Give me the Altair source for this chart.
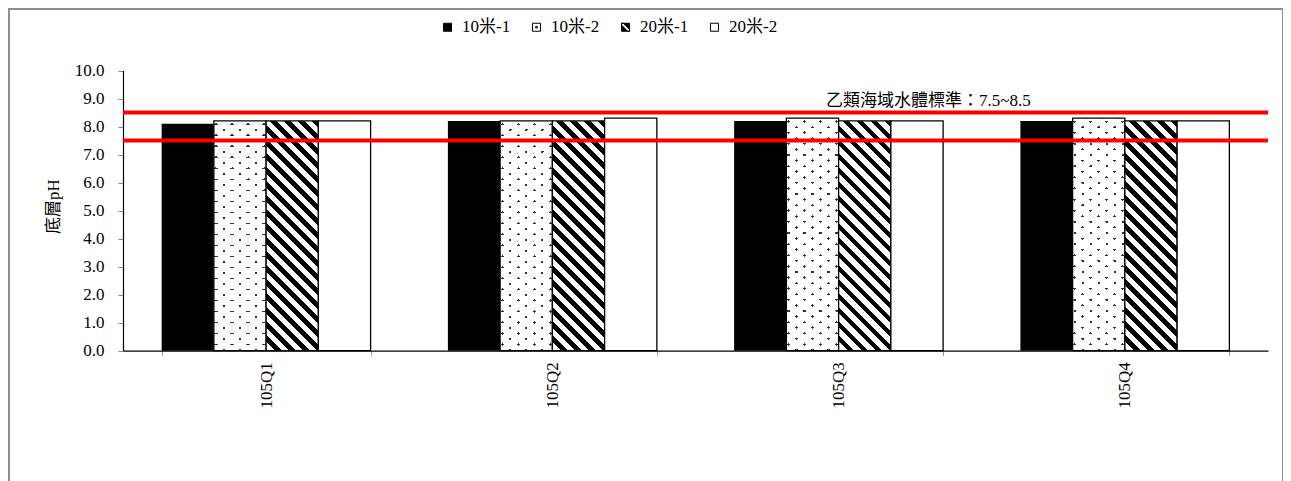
import math
import altair as alt
import pandas as pd

# ---------------- data ----------------
quarters = ["105Q1", "105Q2", "105Q3", "105Q4"]
series = ["10米-1", "10米-2", "20米-1", "20米-2"]
v_10m_1 = [8.1, 8.2, 8.2, 8.2]
v_10m_2 = [8.2, 8.2, 8.3, 8.3]
v_20m_1 = [8.2, 8.2, 8.2, 8.2]
v_20m_2 = [8.2, 8.3, 8.2, 8.2]
std_values = [7.5, 8.5]
std_label = "乙類海域水體標準：7.5~8.5"
y_ticks = [0, 1, 2, 3, 4, 5, 6, 7, 8, 9, 10]

rows = []
for i, q in enumerate(quarters):
    for s, vals in zip(series, [v_10m_1, v_10m_2, v_20m_1, v_20m_2]):
        rows.append({"quarter": q, "series": s, "value": vals[i]})
df = pd.DataFrame(rows)
std_df = pd.DataFrame({"value": std_values})
label_df = pd.DataFrame({"quarter": [quarters[3]], "value": [std_values[1]], "label": [std_label]})

# ---------------- layout ----------------
PAD_L, PAD_T = 1, 1
W, H = 1274, 480            # view = outer chart frame (bottom edge clipped off-page)
X0, X1 = 114, 1259          # plot area x extent inside frame
Y0, Y1 = 341.7, 61.5        # plot area y extent (bottom, top)
PI, PO = 0.27, 0.135
step = (X1 - X0) / (len(quarters) - PI + 2 * PO)
BAR_W = step * (1 - PI) / len(series)
BAR_H = 8.2 / 10 * (Y0 - Y1)

SERIF = "Liberation Serif, Noto Sans CJK TC"


def stripe_stops(L, period, width, cA, cB, phase=0.0):
    def color_at(p):
        r = (p - phase) % period
        return cA if r < width else cB
    bounds = []
    k = math.floor(-phase / period) - 1
    while True:
        a = phase + k * period
        if a > L:
            break
        for pos in (a, a + width):
            if 0 < pos < L:
                bounds.append(pos)
        k += 1
    bounds.sort()
    stops = [{"offset": 0, "color": color_at(0)}]
    for pos in bounds:
        off = round(pos / L, 5)
        stops.append({"offset": off, "color": color_at(pos - 1e-6)})
        stops.append({"offset": off, "color": color_at(pos + 1e-6)})
    stops.append({"offset": 1, "color": color_at(L)})
    return stops


def stripe_gradient(gid, w, h, d, period, width, cA, cB, phase=0.0):
    dx, dy = d
    dbx, dby = dx / w, dy / h
    vx, vy = -dby, dbx
    s = [cx * vx + cy * vy for cx, cy in [(0, 0), (1, 0), (0, 1), (1, 1)]]
    smin, smax = min(s), max(s)
    n2 = vx * vx + vy * vy
    m = math.hypot(vx / w, vy / h)
    L = (smax - smin) / m
    return {
        "gradient": "linear", "id": gid,
        "x1": vx * smin / n2, "y1": vy * smin / n2,
        "x2": vx * smax / n2, "y2": vy * smax / n2,
        "stops": stripe_stops(L, period, width, cA, cB, phase),
    }


hatch = stripe_gradient("hatchfill", BAR_W, BAR_H, (1, 1), 9.9, 4.8, "black", "white")
dots_a = stripe_gradient("dotsfill_a", BAR_W, BAR_H, (8, 5.5), 9.07, 2.0, "#333333", "white", 3)
dots_b = stripe_gradient("dotsfill_b", BAR_W, BAR_H, (8, -5.5), 9.07, 2.0,
                         "rgba(255,255,255,0)", "white", 3)

# ---------------- encodings ----------------
x_scale = alt.Scale(domain=quarters, range=[X0, X1], paddingInner=PI, paddingOuter=PO)
x_axis = alt.Axis(title=None, labelAngle=270, tickBand="extent", offset=Y0 - H,
                  labelFont=SERIF, labelFontSize=17, labelColor="black", labelPadding=6,
                  tickColor="#a0a0a0", tickSize=5, domainColor="black", domainWidth=1.2)
x_enc = alt.X("quarter:N", scale=x_scale, axis=x_axis)
y_enc = alt.Y(
    "value:Q",
    scale=alt.Scale(domain=[0, 10], range=[Y0, Y1], nice=False, zero=True),
    axis=alt.Axis(title="底層pH", values=y_ticks, format=".1f", offset=-X0, grid=False,
                  labelFont=SERIF, labelFontSize=17, labelColor="black", labelPadding=14,
                  tickColor="#888888", tickSize=5, domainColor="black", domainWidth=1.2,
                  titleFont=SERIF, titleFontSize=17, titleFontWeight="normal",
                  titleColor="black", titleX=-70, titleY=197, titleAlign="center",
                  titleBaseline="middle", titleAngle=270),
)
xo_enc = alt.XOffset("series:N", scale=alt.Scale(domain=series))


def bar_layer(s, fill, stroke=True):
    kw = dict(fill=fill)
    if stroke:
        kw.update(stroke="black", strokeWidth=1.3)
    return (alt.Chart(df)
            .transform_filter(alt.datum.series == s)
            .mark_bar(**kw)
            .encode(x=x_enc, y=y_enc, xOffset=xo_enc))


bars_1 = bar_layer(series[0], "black", stroke=False)
bars_2a = bar_layer(series[1], dots_a, stroke=False)
bars_2b = bar_layer(series[1], dots_b)
bars_3 = bar_layer(series[2], hatch)
bars_4 = bar_layer(series[3], "white")

rules = alt.Chart(std_df).mark_rule(color="#ff0000", strokeWidth=4).encode(
    y=y_enc,
    x=alt.value({"expr": "range('x')[0]"}),
    x2=alt.value({"expr": "range('x')[1]"}),
)

label = alt.Chart(label_df).mark_text(
    font=SERIF, fontSize=17, color="black", align="center", baseline="alphabetic",
    dx=-92, dy=-7,
).encode(x=alt.X("quarter:N", bandPosition=0, scale=x_scale, axis=x_axis),
         y=y_enc, text="label:N")

sq = "M-1,-1H1V1H-1Z"
shape_paths = [
    sq,
    sq + "M-0.2,-0.2H0.2V0.2H-0.2Z",
    sq + "M-1,-1L-1,-0.55L0.55,1L1,1L1,0.55L-0.55,-1Z",
    sq,
]
legend_fills = ["black", "white", "black", "white"]
legend_strokes = ["black", "black", "black", "black"]
legend = alt.Legend(
    title=None, orient="none", legendX=430, legendY=9.5, direction="horizontal",
    columns=4, columnPadding=17, labelFont=SERIF, labelFontSize=17, labelColor="black",
    symbolSize=64, labelOffset=6, padding=0, symbolStrokeWidth=1, symbolOpacity=1,
)
legend_layer = (alt.Chart(df)
                .transform_filter("datum.value > 100")
                .mark_point(filled=True, opacity=1, strokeWidth=1)
                .encode(x=x_enc, y=y_enc,
                        fill=alt.Fill("series:N", scale=alt.Scale(domain=series, range=legend_fills),
                                      legend=legend),
                        stroke=alt.Stroke("series:N",
                                          scale=alt.Scale(domain=series, range=legend_strokes),
                                          legend=legend),
                        shape=alt.Shape("series:N", scale=alt.Scale(domain=series, range=shape_paths),
                                        legend=legend)))

chart = (
    alt.layer(bars_1, bars_2a, bars_2b, bars_3, bars_4, rules, label, legend_layer)
    .properties(
        width=W, height=H,
        autosize=alt.AutoSizeParams(type="none"),
        padding={"left": PAD_L, "top": PAD_T, "right": 0, "bottom": -8},
        background="white",
    )
    .configure_view(stroke="#8f8f8f", strokeWidth=2)
)

chart.save("out.html", embed_options={"renderer": "svg", "actions": False})
